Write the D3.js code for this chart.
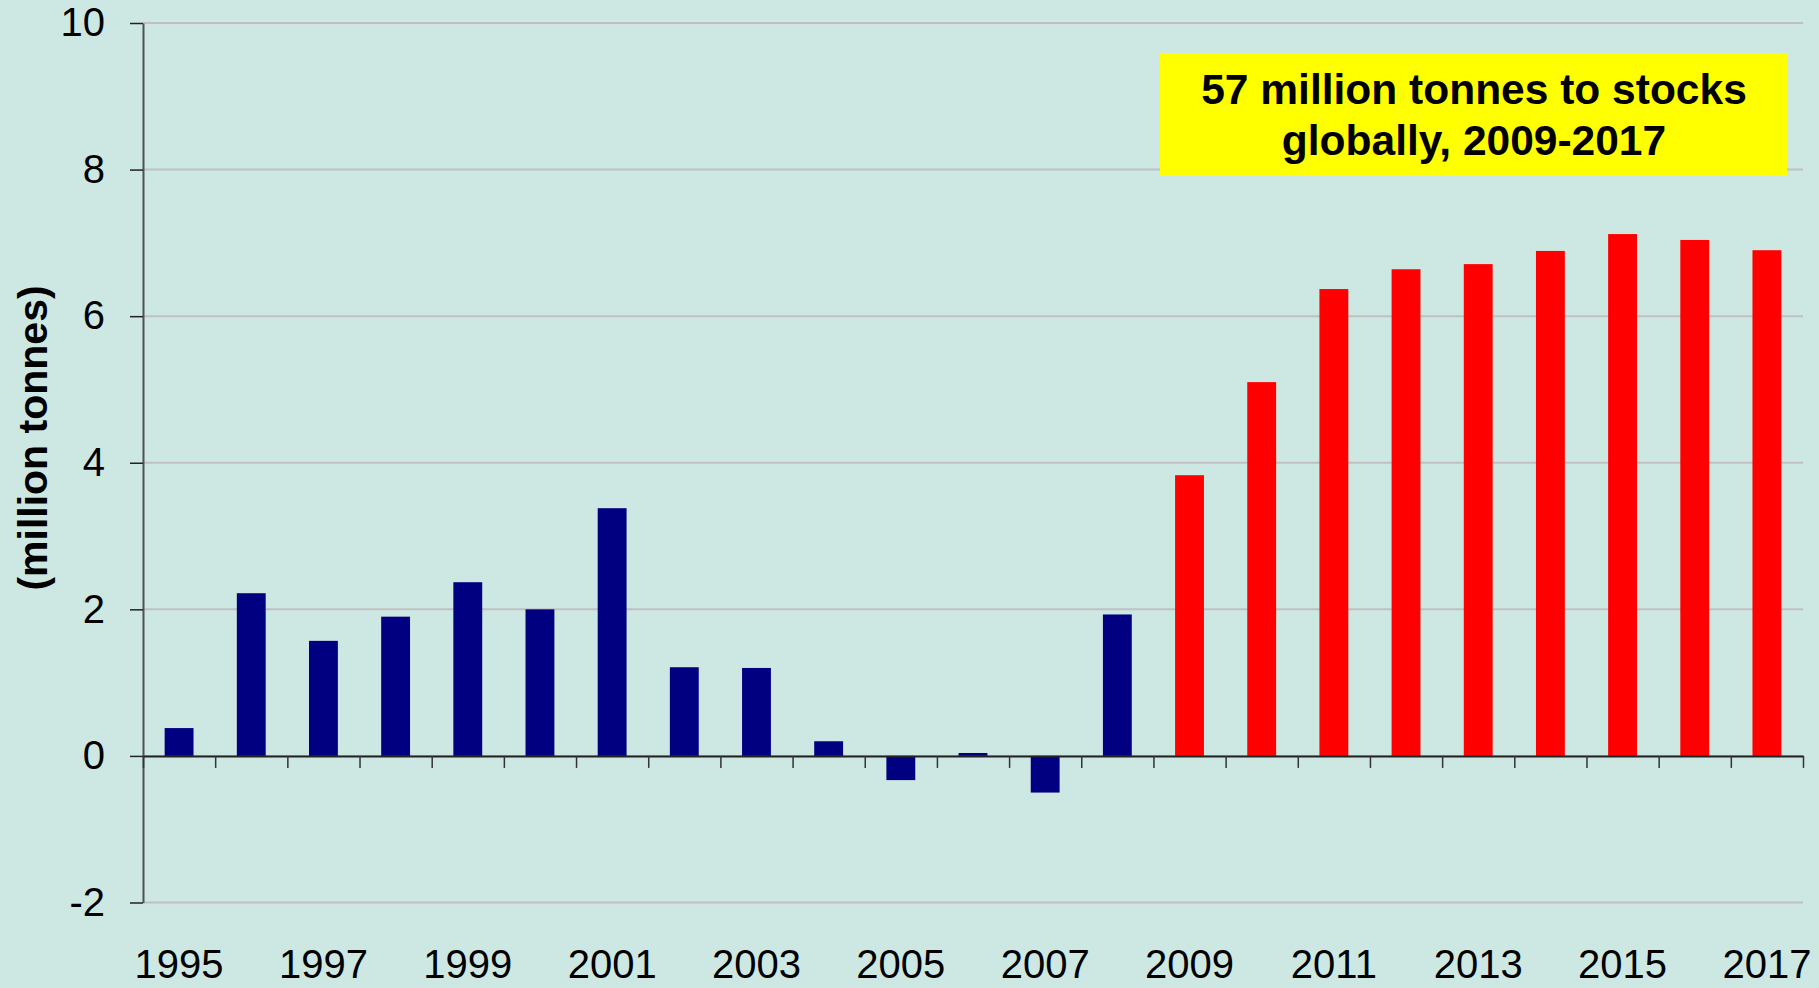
<!DOCTYPE html>
<html>
<head>
<meta charset="utf-8">
<script src="https://cdn.jsdelivr.net/npm/d3@7/dist/d3.min.js"></script>
<style>
  body { margin: 0; background: #cde8e3; }
  svg { display: block; font-family: "Liberation Sans", Arial, sans-serif; }
</style>
</head>
<body>
<div id="chart"></div>
<script>
// stock change per year (million tonnes)
const years = ["1995","1996","1997","1998","1999","2000","2001","2002","2003","2004","2005","2006",
               "2007","2008","2009","2010","2011","2012","2013","2014","2015","2016","2017"];
const values = [0.38, 2.22, 1.57, 1.90, 2.37, 2.00, 3.38, 1.21, 1.20, 0.20, -0.33, 0.04,
                -0.50, 1.93, 3.83, 5.10, 6.37, 6.64, 6.71, 6.89, 7.12, 7.04, 6.90];
const highlightFrom = "2009";
const yTicks = [-2, 0, 2, 4, 6, 8, 10];
const xLabels = years.filter((d, i) => i % 2 === 0);
const yTitle = "(million tonnes)";
const noteLines = ["57 million tonnes to stocks", "globally, 2009-2017"];

const W = 1819, H = 988;
const mLeft = 143, mRight = 1803, mTop = 23, mBottom = 902.5;

const svg = d3.select("#chart").append("svg")
    .attr("width", W)
    .attr("height", H);

svg.append("rect").attr("width", W).attr("height", H).attr("fill", "#cde8e3");

const x = d3.scaleBand()
    .domain(years)
    .range([mLeft, mRight])
    .paddingInner(0.6)
    .paddingOuter(0.3);

const y = d3.scaleLinear()
    .domain([-2, 10])
    .range([mBottom, mTop]);

// gridlines
svg.append("g")
  .selectAll("line")
  .data(yTicks)
  .enter().append("line")
    .attr("x1", mLeft)
    .attr("x2", mRight)
    .attr("y1", d => y(d))
    .attr("y2", d => y(d))
    .attr("stroke", "#c0c0c0")
    .attr("stroke-width", 2);

// bars
svg.append("g")
  .selectAll("rect")
  .data(years)
  .enter().append("rect")
    .attr("x", d => x(d))
    .attr("width", x.bandwidth())
    .attr("y", (d, i) => y(Math.max(0, values[i])))
    .attr("height", (d, i) => Math.abs(y(values[i]) - y(0)))
    .attr("fill", d => d >= highlightFrom ? "#ff0000" : "#000080");

// y axis
const yAxis = svg.append("g")
    .attr("transform", "translate(" + mLeft + ",0)")
    .call(d3.axisLeft(y).tickValues(yTicks).tickSize(13).tickPadding(25).tickSizeOuter(0)
      .tickFormat(d => String(d)));
yAxis.select(".domain").attr("stroke", "#505050").attr("stroke-width", 2);
yAxis.selectAll(".tick line").attr("stroke", "#222").attr("stroke-width", 1.5);
yAxis.selectAll("text").attr("font-size", 40).attr("fill", "#000");

// zero line with ticks between categories
const xb = d3.scaleLinear().domain([0, years.length]).range([mLeft, mRight]);
const zeroAxis = svg.append("g")
    .attr("transform", "translate(0," + y(0) + ")")
    .call(d3.axisBottom(xb).tickValues(d3.range(years.length + 1)).tickSize(12).tickSizeOuter(0).tickFormat(""));
zeroAxis.select(".domain").attr("stroke", "#222").attr("stroke-width", 2);
zeroAxis.selectAll(".tick line").attr("stroke", "#333").attr("stroke-width", 1.5);

// year labels at the bottom
const labelAxis = svg.append("g")
    .attr("transform", "translate(0," + mBottom + ")")
    .call(d3.axisBottom(x).tickValues(xLabels).tickSize(0).tickPadding(47));
labelAxis.select(".domain").remove();
labelAxis.selectAll("text").attr("font-size", 40).attr("fill", "#000");

// y title
svg.append("text")
    .attr("transform", "translate(47,438) rotate(-90)")
    .attr("text-anchor", "middle")
    .attr("font-size", 41)
    .attr("font-weight", "bold")
    .text(yTitle);

// note box
const note = svg.append("g");
note.append("rect")
    .attr("x", 1160)
    .attr("y", 53)
    .attr("width", 627)
    .attr("height", 123)
    .attr("fill", "#ffff00");
note.selectAll("text")
  .data(noteLines)
  .enter().append("text")
    .attr("x", 1474)
    .attr("y", (d, i) => 104 + i * 51)
    .attr("text-anchor", "middle")
    .attr("font-size", 42.5)
    .attr("font-weight", "bold")
    .text(d => d);
</script>
</body>
</html>
